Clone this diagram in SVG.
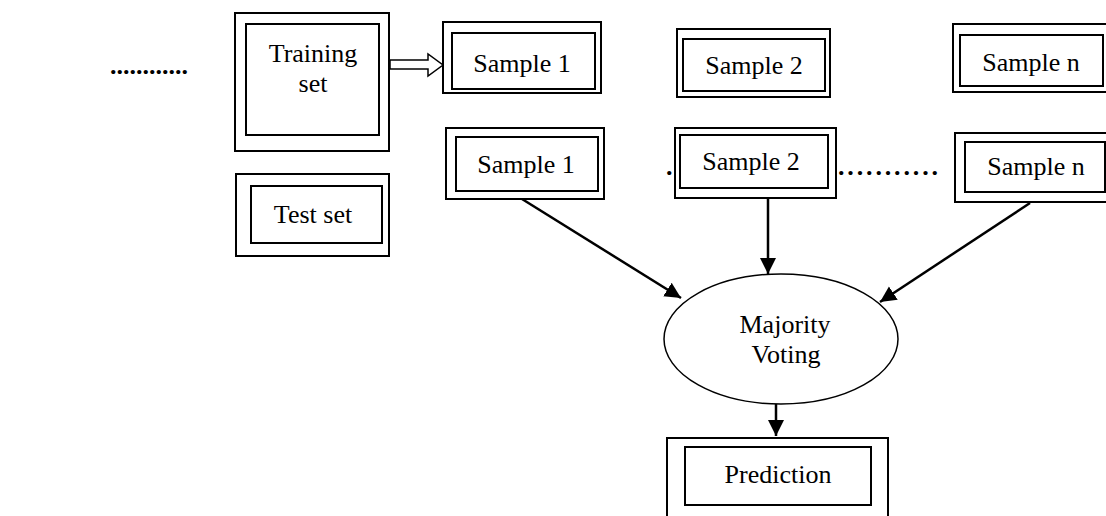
<svg xmlns="http://www.w3.org/2000/svg" width="1106" height="516" viewBox="0 0 1106 516">
<defs>
<style>
.o{fill:#fff;stroke:#000;stroke-width:2}
.i{fill:#fff;stroke:#000;stroke-width:2}
.t{font-family:"Liberation Serif","Times New Roman",serif;font-size:26px;fill:#000;text-anchor:middle}
.d{font-family:"Liberation Serif","Times New Roman",serif;font-size:26px;fill:#000;font-weight:bold}
.c{stroke:#000;stroke-width:2.5;fill:none}
</style>
<marker id="ah" viewBox="0 0 10 10" refX="10" refY="5" markerWidth="16" markerHeight="17" orient="auto" markerUnits="userSpaceOnUse">
<path d="M0,0 L10,5 L0,10 z" fill="#000"/>
</marker>
</defs>
<rect width="1106" height="516" fill="#fff"/>

<text class="d" x="110" y="74" textLength="78">............</text>

<g id="training">
<rect class="o" x="235" y="13" width="154" height="138"/>
<rect class="i" x="246" y="24" width="133" height="111"/>
<text class="t" x="313" y="62">Training</text>
<text class="t" x="313" y="92">set</text>
</g>

<g id="test">
<rect class="o" x="236" y="174" width="153" height="82"/>
<rect class="i" x="251" y="186" width="131" height="57"/>
<text class="t" x="313" y="223">Test set</text>
</g>

<g id="s1top">
<rect class="o" x="443" y="22" width="158" height="71"/>
<rect class="i" x="452" y="33" width="143" height="56"/>
<text class="t" x="522" y="72">Sample 1</text>
</g>

<g id="s2top">
<rect class="o" x="677" y="29" width="153" height="68"/>
<rect class="i" x="683" y="39" width="142" height="52"/>
<text class="t" x="754" y="74">Sample 2</text>
</g>

<g id="sntop">
<rect class="o" x="953" y="24" width="160" height="68"/>
<rect class="i" x="960" y="35" width="143" height="51"/>
<text class="t" x="1031" y="71">Sample n</text>
</g>

<g id="s1">
<rect class="o" x="446" y="128" width="158" height="71"/>
<rect class="i" x="456" y="137" width="142" height="54"/>
<text class="t" x="526" y="173">Sample 1</text>
</g>

<g id="s2">
<rect class="o" x="675" y="128" width="161" height="70"/>
<rect class="i" x="680" y="135" width="148" height="53"/>
<text class="t" x="751" y="170">Sample 2</text>
</g>

<g id="sn">
<rect class="o" x="955" y="133" width="160" height="69"/>
<rect class="i" x="965" y="142" width="140" height="50"/>
<text class="t" x="1036" y="175">Sample n</text>
</g>

<text class="d" x="666" y="175">.</text>
<text class="d" x="838" y="175" textLength="100">...........</text>

<g id="vote">
<ellipse cx="781" cy="339" rx="117" ry="65" fill="#fff" stroke="#000" stroke-width="1.5"/>
<text class="t" x="785" y="333">Majority</text>
<text class="t" x="786" y="363">Voting</text>
</g>

<g id="prediction">
<rect class="o" x="667" y="438" width="221" height="90"/>
<rect class="i" x="685" y="447" width="186" height="58"/>
<text class="t" x="778" y="483">Prediction</text>
</g>

<g id="connectors">
<path d="M390,60 H428 V54 L443,65 L428,76 V69 H390 z" fill="#fff" stroke="#000" stroke-width="1.5"/>
<line class="c" x1="522" y1="199" x2="681" y2="298" marker-end="url(#ah)"/>
<line class="c" x1="768" y1="198" x2="768" y2="274" marker-end="url(#ah)"/>
<line class="c" x1="1030" y1="203" x2="880" y2="302" marker-end="url(#ah)"/>
<line class="c" x1="776" y1="404" x2="776" y2="436" marker-end="url(#ah)"/>
</g>
</svg>
